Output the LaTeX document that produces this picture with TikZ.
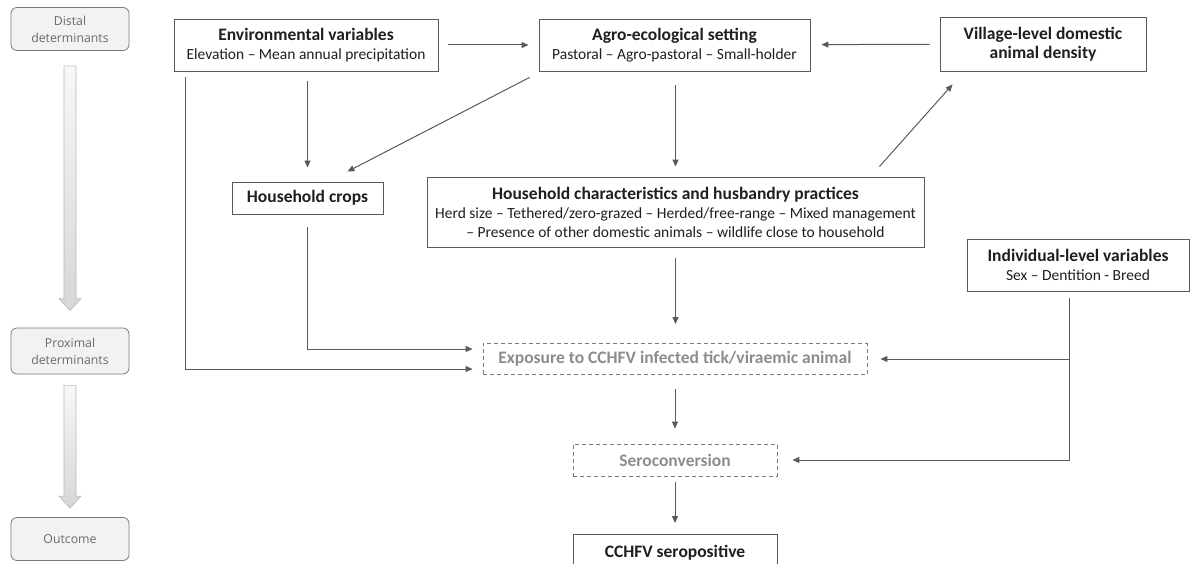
\documentclass[tikz,border=0pt]{standalone}
\usepackage{fontspec}
\setmainfont{Carlito}
\newfontfamily\sidefont{Open Sans}
\usetikzlibrary{arrows.meta,calc}

\definecolor{edge}{HTML}{595959}
\definecolor{ink}{HTML}{1F1F1F}
\definecolor{dim}{HTML}{8C8C8C}
\definecolor{sidegray}{HTML}{7A7A7A}
\definecolor{sidetext}{HTML}{6A6A6A}
\definecolor{sidefill}{HTML}{F2F2F2}

\tikzset{
  box/.style={draw=edge, line width=0.9pt, fill=white, align=center, text=ink,
    inner sep=0pt, font=\fontsize{15.5}{19}\selectfont},
  dbox/.style={draw=sidegray, dash pattern=on 4pt off 3pt, line width=0.9pt,
    text=dim, inner sep=0pt, font=\bfseries\fontsize{17.5}{19}\selectfont},
  side/.style={draw=sidegray, fill=sidefill, rounded corners=6pt, line width=0.8pt,
    minimum width=118pt, align=center, text=sidetext,
    font=\sidefont\fontsize{12.3}{17}\selectfont},
  arr/.style={draw=edge, line width=1pt, -{Triangle[length=7pt,width=6pt]}},
  block/.style={draw=gray!55, line width=0.6pt, top color=gray!6, bottom color=gray!32},
}
\newcommand{\ttl}[1]{{\bfseries\fontsize{17.5}{19}\selectfont #1}}

\begin{document}
\begin{tikzpicture}[x=1pt,y=-1pt]
\useasboundingbox (0,0) rectangle (1192,564);

% level labels on the left
\node[side, minimum height=43pt] (distal) at (70,29) {Distal\\determinants};
\node[side, minimum height=46pt] (proximal) at (70,351) {Proximal\\determinants};
\node[side, minimum height=43pt] (outcome) at (70,539) {Outcome};

% block arrows between the levels
\path[block] ($(distal.south)+(-6,15)$) -- ($(distal.south)+(6,15)$)
  -- ($(proximal.north)+(6,-29)$) -- ($(proximal.north)+(11,-29)$)
  -- ($(proximal.north)+(0,-17)$) -- ($(proximal.north)+(-11,-29)$)
  -- ($(proximal.north)+(-6,-29)$) -- cycle;
\path[block] ($(proximal.south)+(-6,11)$) -- ($(proximal.south)+(6,11)$)
  -- ($(outcome.north)+(6,-21)$) -- ($(outcome.north)+(11,-21)$)
  -- ($(outcome.north)+(0,-9)$) -- ($(outcome.north)+(-11,-21)$)
  -- ($(outcome.north)+(-6,-21)$) -- cycle;

% distal determinants
\node[box, minimum width=264pt, minimum height=52pt] (env) at (306,45)
  {\ttl{Environmental variables}\\Elevation – Mean annual precipitation};
\node[box, minimum width=271pt, minimum height=52pt] (agro) at (674.5,45)
  {\ttl{Agro-ecological setting}\\Pastoral – Agro-pastoral – Small-holder};
\node[box, minimum width=206pt, minimum height=54pt] (village) at (1043,44)
  {\ttl{Village-level domestic}\\\ttl{animal density}};
\node[box, minimum width=151pt, minimum height=32pt] (crops) at (307.5,198)
  {\ttl{Household crops}};
\node[box, minimum width=497pt, minimum height=70pt] (hh) at (675.5,212)
  {\ttl{Household characteristics and husbandry practices}\\
   Herd size – Tethered/zero-grazed – Herded/free-range – Mixed management\\
   – Presence of other domestic animals – wildlife close to household};
\node[box, minimum width=222pt, minimum height=52pt] (indiv) at (1078,265)
  {\ttl{Individual-level variables}\\Sex – Dentition - Breed};

% proximal determinants and outcome
\node[dbox, minimum width=384pt, minimum height=31pt] (expo) at (675,359)
  {Exposure to CCHFV infected tick/viraemic animal};
\node[dbox, minimum width=204pt, minimum height=32pt] (sero) at (675,460)
  {Seroconversion};
\node[box, minimum width=204pt, minimum height=36pt, anchor=north] (pos) at (675,534)
  {\ttl{CCHFV seropositive}};

% connectors
\draw[arr, shorten <=10pt, shorten >=10pt] (env) -- (agro);
\draw[arr, shorten <=10pt, shorten >=11pt] (village) -- (agro);
\draw[arr, shorten <=10pt, shorten >=14pt] (crops.north |- env.south) -- (crops.north);
\draw[arr] ($(agro.south west)+(-9,6)$) -- ($(crops.north east)+(-36,-10)$);
\draw[arr, shorten <=14pt, shorten >=10pt] (hh.north |- agro.south) -- (hh.north);
\draw[arr] ($(hh.north east)+(-45,-10)$) -- ($(village.south west)+(13,13)$);
\draw[arr, shorten <=11pt, shorten >=19pt] (hh.south) -- (hh.south |- expo.north);
\draw[arr, shorten <=13pt, shorten >=10pt] (crops.south) |- ([yshift=10pt]expo.west);
\draw[arr, shorten >=10pt] ($(env.south west)+(12,6)$) |- ([yshift=-10pt]expo.west);

\coordinate (ij) at ($(indiv.south)+(-9,7)$);
\draw[arr, shorten >=15pt] (ij) |- (sero.east);
\draw[arr, shorten >=13pt] (ij |- expo.east) -- (expo.east);

\draw[arr, shorten <=14pt, shorten >=15pt] (expo.south) -- (sero.north);
\draw[arr, shorten <=6pt, shorten >=11pt] (sero.south) -- (pos.north);
\end{tikzpicture}
\end{document}
